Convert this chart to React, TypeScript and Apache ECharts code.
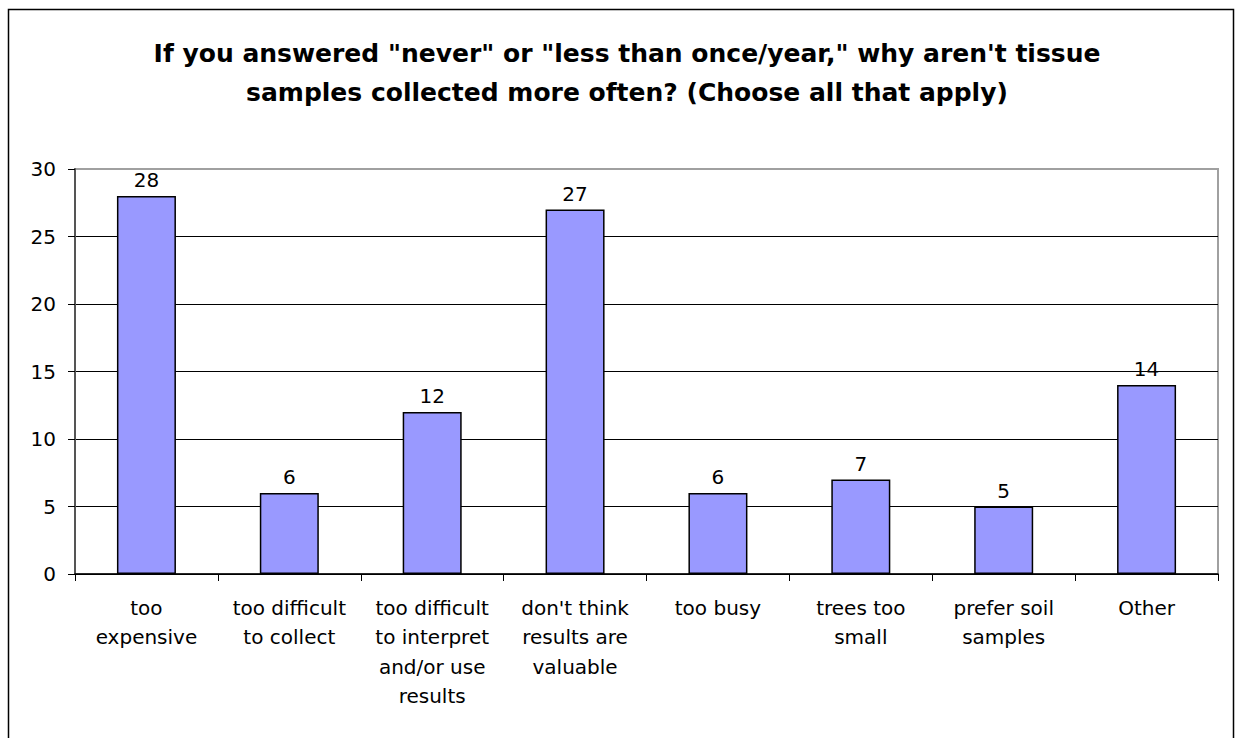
import React, { useEffect, useRef } from "react";
import * as echarts from "echarts";

const categories = [
  "too\nexpensive",
  "too difficult\nto collect",
  "too difficult\nto interpret\nand/or use\nresults",
  "don't think\nresults are\nvaluable",
  "too busy",
  "trees too\nsmall",
  "prefer soil\nsamples",
  "Other",
];
const values = [28, 6, 12, 27, 6, 7, 5, 14];
const titleText =
  'If you answered "never" or "less than once/year," why aren\'t tissue\nsamples collected more often? (Choose all that apply)';

export default function App() {
  const ref = useRef<HTMLDivElement>(null);
  useEffect(() => {
    if (!ref.current) return;
    const chart = echarts.init(ref.current, undefined, { renderer: "svg" });
    const font = "'DejaVu Sans', sans-serif";
    chart.setOption({
      animation: false,
      backgroundColor: "#ffffff",
      textStyle: { fontFamily: font },
      title: {
        text: titleText,
        left: 622,
        textAlign: "center",
        top: 29,
        textStyle: {
          fontFamily: font,
          fontSize: 25,
          fontWeight: "bold",
          color: "#000",
          lineHeight: 39,
        },
      },
      graphic: [
        {
          type: "rect",
          shape: { x: 8.5, y: 9.5, width: 1225, height: 800 },
          style: { fill: "none", stroke: "#000", lineWidth: 1.5 },
          silent: true,
          z: 100,
        },
      ],
      grid: {
        left: 75,
        right: 18,
        top: 169,
        bottom: 164,
        show: true,
        borderColor: "#a0a0a0",
        borderWidth: 2,
        backgroundColor: "#fff",
      },
      xAxis: {
        type: "category",
        data: categories,
        axisLine: { show: true, lineStyle: { color: "#000", width: 1.5 } },
        axisTick: { show: true, length: 7, lineStyle: { color: "#000" } },
        axisLabel: {
          interval: 0,
          fontSize: 20,
          lineHeight: 29.5,
          color: "#000",
          margin: 19,
          fontFamily: font,
        },
      },
      yAxis: {
        type: "value",
        min: 0,
        max: 30,
        interval: 5,
        axisLine: { show: true, lineStyle: { color: "#555", width: 2 } },
        axisTick: { show: true, length: 7, lineStyle: { color: "#000" } },
        axisLabel: { fontSize: 20, color: "#000", margin: 19, fontFamily: font },
        splitLine: {
          show: true,
          lineStyle: {
            color: ["#000", "#000", "#000", "#000", "#000", "#000", "#a0a0a0"],
            width: 1,
          },
        },
      },
      series: [
        {
          type: "bar",
          data: values,
          barWidth: 59,
          itemStyle: { color: "#9999ff", borderColor: "#000", borderWidth: 1.5 },
          label: {
            show: true,
            position: "top",
            distance: 6,
            fontSize: 20,
            color: "#000",
            fontFamily: font,
          },
        },
      ],
    });
    return () => chart.dispose();
  }, []);
  return (
    <div
      ref={ref}
      style={{ position: "fixed", left: 0, top: 0, width: 1236, height: 738 }}
    />
  );
}
